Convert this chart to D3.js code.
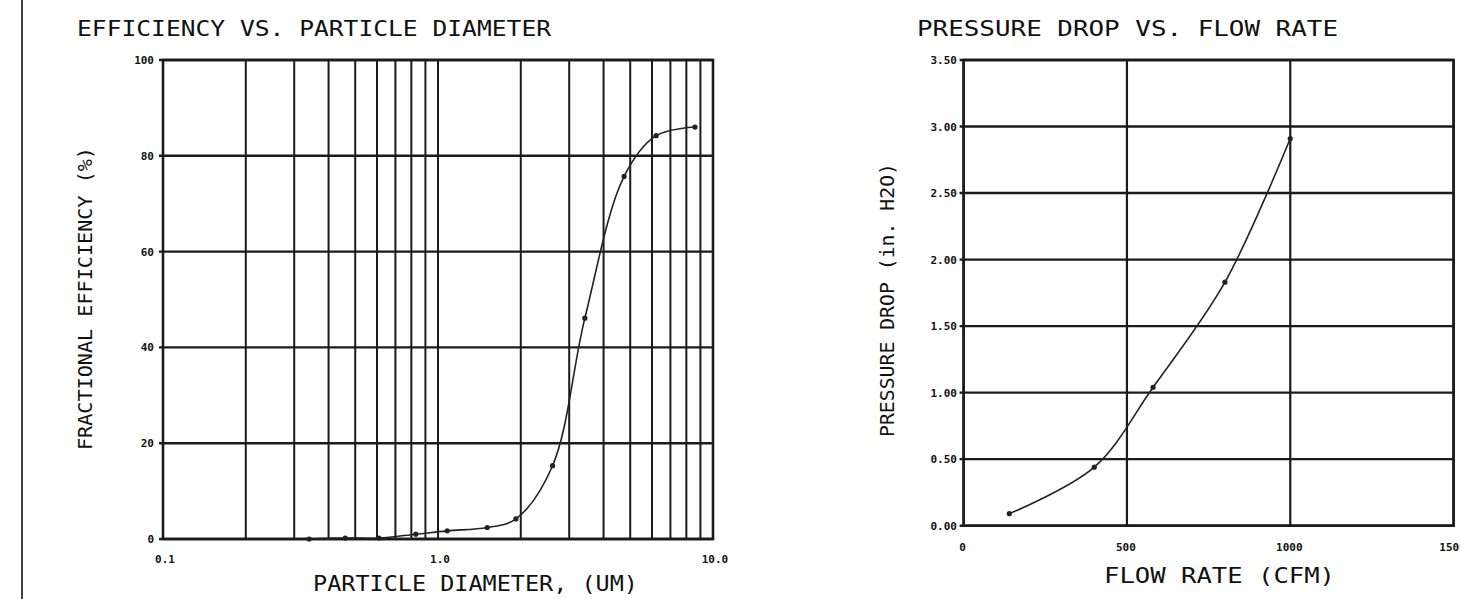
<!DOCTYPE html>
<html lang="en">
<head>
<script src="https://d3js.org/d3.v7.min.js"></script>
<style>
  body { margin: 0; background: #fff; }
  text { font-family: "DejaVu Sans Mono", monospace; fill: #111; }
</style>
</head>
<body>
<script>
// efficiency vs particle diameter
var diameters = [0.34, 0.46, 0.61, 0.83, 1.08, 1.51, 1.92, 2.61, 3.42, 4.75, 6.21, 8.6];
var efficiency = [0, 0.2, 0.2, 1.0, 1.7, 2.4, 4.2, 15.3, 46.1, 75.7, 84.2, 86.0];
var effTicks = [0, 20, 40, 60, 80, 100];
var diaTicks = [0.1, 1.0, 10.0];
var diaGrid = [0.2, 0.3, 0.4, 0.5, 0.6, 0.7, 0.8, 0.9, 1, 2, 3, 4, 5, 6, 7, 8, 9];

// pressure drop vs flow rate
var flow = [140, 400, 580, 800, 1000];
var pressure = [0.09, 0.44, 1.04, 1.83, 2.91];
var flowTicks = [0, 500, 1000, 1500];
var pressTicks = [0, 0.5, 1.0, 1.5, 2.0, 2.5, 3.0, 3.5];

const W = 1460, H = 599;
const ink = "#1b1b1b";

const svg = d3.select("body").append("svg")
  .attr("width", W).attr("height", H);

// left frame line
svg.append("line")
  .attr("x1", 22).attr("x2", 22).attr("y1", 0).attr("y2", H)
  .attr("stroke", "#444").attr("stroke-width", 2);

// ---------- left chart ----------
var x1 = d3.scaleLog().domain([0.1, 10]).range([163, 713]);
var y1 = d3.scaleLinear().domain([0, 100]).range([539, 60]);

var g1 = svg.append("g");

g1.selectAll(".vg").data(diaGrid).enter().append("line")
  .attr("x1", d => x1(d)).attr("x2", d => x1(d))
  .attr("y1", y1(0)).attr("y2", y1(100))
  .attr("stroke", ink).attr("stroke-width", 2);

g1.selectAll(".hg").data(effTicks).enter().append("line")
  .attr("x1", x1(0.1) - 4).attr("x2", x1(10))
  .attr("y1", d => y1(d)).attr("y2", d => y1(d))
  .attr("stroke", ink).attr("stroke-width", 2.4);

g1.append("rect")
  .attr("x", x1(0.1)).attr("y", y1(100))
  .attr("width", x1(10) - x1(0.1)).attr("height", y1(0) - y1(100))
  .attr("fill", "none").attr("stroke", ink).attr("stroke-width", 2.6);

g1.selectAll(".yl").data(effTicks).enter().append("text")
  .attr("x", 154).attr("y", d => y1(d) + 4)
  .attr("text-anchor", "end").attr("font-size", 11).attr("font-weight", "bold")
  .text(d => d);

g1.selectAll(".xl").data(diaTicks).enter().append("text")
  .attr("x", d => x1(d) + 2).attr("y", 563)
  .attr("text-anchor", "middle").attr("font-size", 11).attr("font-weight", "bold")
  .text(d => d.toFixed(1));

var line1 = d3.line()
  .x((d, i) => x1(diameters[i]))
  .y(d => y1(d))
  .curve(d3.curveCatmullRom.alpha(0.5));

g1.append("path").datum(efficiency)
  .attr("d", line1).attr("fill", "none")
  .attr("stroke", "#222").attr("stroke-width", 1.6);

g1.selectAll(".pt").data(efficiency).enter().append("circle")
  .attr("cx", (d, i) => x1(diameters[i])).attr("cy", d => y1(d))
  .attr("r", 2.6).attr("fill", "#222");

g1.append("text")
  .attr("x", 77).attr("y", 36)
  .attr("font-size", 22).attr("textLength", 474).attr("lengthAdjust", "spacingAndGlyphs")
  .text("EFFICIENCY VS. PARTICLE DIAMETER");

g1.append("text")
  .attr("x", 313).attr("y", 591)
  .attr("font-size", 22).attr("textLength", 325).attr("lengthAdjust", "spacingAndGlyphs")
  .text("PARTICLE DIAMETER, (UM)");

g1.append("text")
  .attr("transform", "translate(92,450) rotate(-90)")
  .attr("font-size", 19).attr("textLength", 303).attr("lengthAdjust", "spacingAndGlyphs")
  .text("FRACTIONAL EFFICIENCY (%)");

// ---------- right chart ----------
var x2 = d3.scaleLinear().domain([0, 1500]).range([963.6, 1453.6]);
var y2 = d3.scaleLinear().domain([0, 3.5]).range([525.7, 60]);

var g2 = svg.append("g");

g2.selectAll(".vg").data(flowTicks).enter().append("line")
  .attr("x1", d => x2(d)).attr("x2", d => x2(d))
  .attr("y1", y2(0)).attr("y2", y2(3.5))
  .attr("stroke", ink).attr("stroke-width", 2.2);

g2.selectAll(".hg").data(pressTicks).enter().append("line")
  .attr("x1", x2(0) - 4).attr("x2", x2(1500))
  .attr("y1", d => y2(d)).attr("y2", d => y2(d))
  .attr("stroke", ink).attr("stroke-width", 2.4);

g2.append("rect")
  .attr("x", x2(0)).attr("y", y2(3.5))
  .attr("width", x2(1500) - x2(0)).attr("height", y2(0) - y2(3.5))
  .attr("fill", "none").attr("stroke", ink).attr("stroke-width", 2.6);

g2.selectAll(".yl").data(pressTicks).enter().append("text")
  .attr("x", 957).attr("y", d => y2(d) + 4)
  .attr("text-anchor", "end").attr("font-size", 11).attr("font-weight", "bold")
  .text(d => d.toFixed(2));

g2.selectAll(".xl").data(flowTicks).enter().append("text")
  .attr("x", d => x2(d) - 1).attr("y", 551)
  .attr("text-anchor", "middle").attr("font-size", 11).attr("font-weight", "bold")
  .text(d => d);

var line2 = d3.line()
  .x((d, i) => x2(flow[i]))
  .y(d => y2(d))
  .curve(d3.curveCatmullRom.alpha(0.5));

g2.append("path").datum(pressure)
  .attr("d", line2).attr("fill", "none")
  .attr("stroke", "#222").attr("stroke-width", 1.6);

g2.selectAll(".pt").data(pressure).enter().append("circle")
  .attr("cx", (d, i) => x2(flow[i])).attr("cy", d => y2(d))
  .attr("r", 2.6).attr("fill", "#222");

g2.append("text")
  .attr("x", 917).attr("y", 36)
  .attr("font-size", 22).attr("textLength", 421).attr("lengthAdjust", "spacingAndGlyphs")
  .text("PRESSURE DROP VS. FLOW RATE");

g2.append("text")
  .attr("x", 1104).attr("y", 583)
  .attr("font-size", 22).attr("textLength", 231).attr("lengthAdjust", "spacingAndGlyphs")
  .text("FLOW RATE (CFM)");

g2.append("text")
  .attr("transform", "translate(894,437) rotate(-90)")
  .attr("font-size", 19).attr("textLength", 274).attr("lengthAdjust", "spacingAndGlyphs")
  .text("PRESSURE DROP (in. H2O)");
</script>
</body>
</html>
